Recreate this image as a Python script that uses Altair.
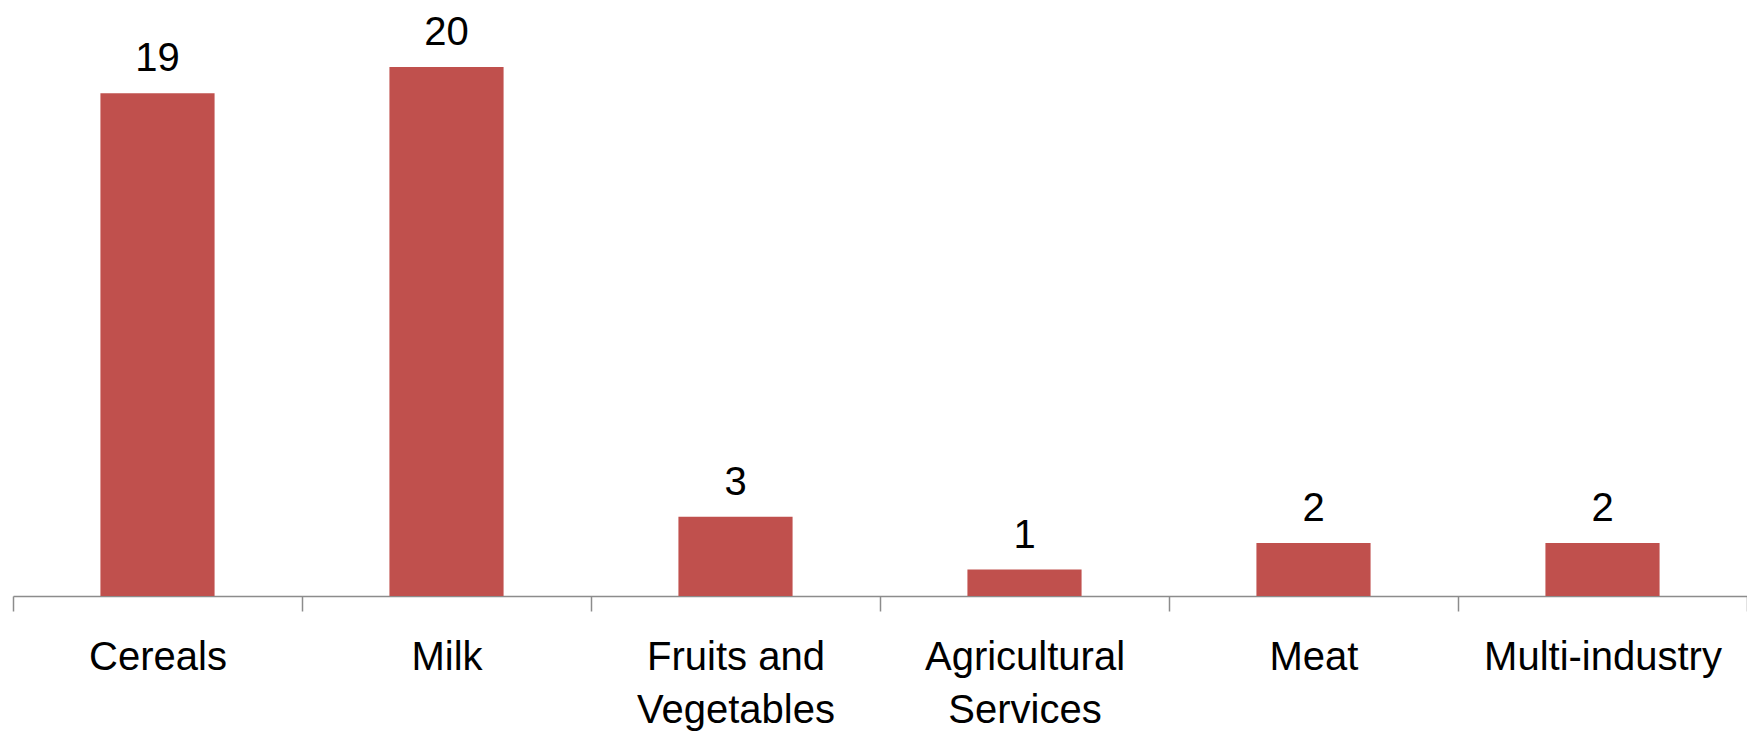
import altair as alt
import pandas as pd

categories = ["Cereals", "Milk", "Fruits and Vegetables", "Agricultural Services", "Meat", "Multi-industry"]
values = [19, 20, 3, 1, 2, 2]

df = pd.DataFrame({"category": categories, "value": values})

FONT = "Liberation Sans"
label_expr = ("datum.label == 'Fruits and Vegetables' ? ['Fruits and', 'Vegetables'] : "
              "datum.label == 'Agricultural Services' ? ['Agricultural', 'Services'] : datum.label")

x = alt.X("category:N", sort=categories, title=None,
          scale=alt.Scale(paddingInner=0, paddingOuter=0),
          axis=alt.Axis(labelAngle=0, tickBand="extent", tickSize=15, tickColor="#8c8c8c",
                        domainColor="#8c8c8c", domainWidth=1.5, tickWidth=1.5,
                        labelFont=FONT, labelFontSize=40, labelColor="#000000", labelLimit=0,
                        labelPadding=26, labelLineHeight=53, labelExpr=label_expr))
y = alt.Y("value:Q", scale=alt.Scale(domain=[0, 22], nice=False), axis=None)

bars = alt.Chart(df).mark_bar(color="#C0504D", width=alt.RelativeBandSize(0.395)).encode(x=x, y=y)
text = alt.Chart(df).mark_text(font=FONT, fontSize=40, baseline="alphabetic", dy=-22, color="#000000").encode(
    x=alt.X("category:N", sort=categories), y="value:Q", text="value:Q")

chart = alt.layer(bars, text).properties(
    width=1734, height=582,
    padding={"left": 5, "top": 6, "right": 0, "bottom": 140},
    autosize=alt.AutoSizeParams(type="none"),
).configure_view(stroke=None)

chart.save("out.html", embed_options={"renderer": "svg", "actions": False})
